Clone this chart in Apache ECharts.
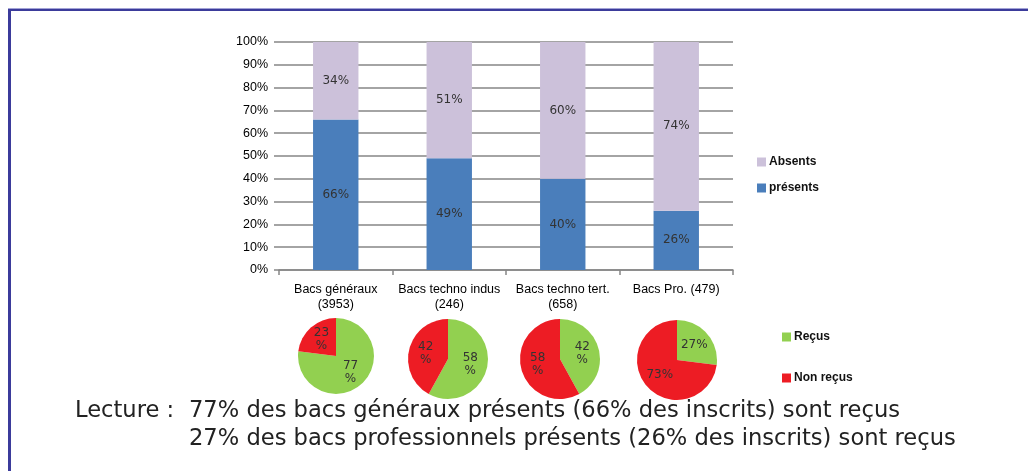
<!DOCTYPE html>
<html>
<head>
<meta charset="utf-8">
<script src="https://cdn.jsdelivr.net/npm/echarts@6/dist/echarts.min.js"></script>
<style>
  html, body { margin: 0; padding: 0; background: #fff; }
  #chart { width: 1028px; height: 471px; }
</style>
</head>
<body>
<div id="chart"></div>
<script>
// Categories of baccalauréat, with number of registered candidates
const categories = ['Bacs généraux\n(3953)', 'Bacs techno indus\n(246)', 'Bacs techno tert.\n(658)', 'Bacs Pro. (479)'];
// Share of registered candidates who sat the exam / were absent (%)
const presents = [66, 49, 40, 26];
const absents = [34, 51, 60, 74];
// Among those present: passed / failed (%)
const recus = [77, 58, 42, 27];
const nonRecus = [23, 42, 58, 73];
// Reading notes under the chart
const lectureTitle = 'Lecture :';
const lectureLines = [
  '77% des bacs généraux présents (66% des inscrits) sont reçus',
  '27% des bacs professionnels présents (26% des inscrits) sont reçus'
];

const COLOR_PRES = '#4a7ebb';
const COLOR_ABS = '#ccc1da';
const COLOR_OK = '#92d050';
const COLOR_KO = '#ed1c24';

const pieCenters = [[336, 356], [448, 359], [560, 359], [677, 360]];
const pieRadius = [38, 40, 40, 40];

const pieSeries = recus.map((r, i) => ({
  type: 'pie',
  center: pieCenters[i],
  radius: pieRadius[i],
  startAngle: 90,
  clockwise: true,
  animation: false,
  silent: true,
  label: {
    show: true,
    position: 'inner',
    color: '#333',
    fontFamily: 'DejaVu Sans',
    fontSize: 12,
    lineHeight: 13,
    formatter: i === 3 ? '{c}%' : '{c}\n%'
  },
  labelLine: { show: false },
  itemStyle: { borderWidth: 0 },
  data: [
    { name: 'Reçus', value: r, itemStyle: { color: COLOR_OK } },
    { name: 'Non reçus', value: nonRecus[i], itemStyle: { color: COLOR_KO } }
  ]
}));

const legendText = { fontFamily: 'Liberation Sans', fontSize: 12, fontWeight: 'bold', color: '#111', padding: [0, 0, 0, -2] };

const chart = echarts.init(document.getElementById('chart'), null, { renderer: 'canvas' });

chart.setOption({
  animation: false,
  backgroundColor: '#fff',
  grid: { left: 279, right: 295, top: 42, bottom: 201, containLabel: false },
  legend: [
    {
      data: ['Absents', 'présents'],
      orient: 'vertical',
      left: 757,
      top: 156,
      padding: 0,
      itemWidth: 9,
      itemHeight: 9,
      itemGap: 14,
      icon: 'rect',
      textStyle: legendText
    },
    {
      data: ['Reçus', 'Non reçus'],
      orient: 'vertical',
      left: 782,
      top: 331,
      padding: 0,
      itemWidth: 9,
      itemHeight: 9,
      itemGap: 29,
      icon: 'rect',
      textStyle: legendText
    }
  ],
  xAxis: {
    type: 'category',
    data: categories,
    axisLine: { show: true, lineStyle: { color: '#868686', width: 1.5 } },
    axisTick: { show: true, length: 5, lineStyle: { color: '#868686', width: 1.5 } },
    axisLabel: {
      interval: 0,
      margin: 12,
      color: '#000',
      fontFamily: 'Liberation Sans',
      fontSize: 12.5,
      lineHeight: 15
    }
  },
  yAxis: {
    type: 'value',
    min: 0,
    max: 100,
    interval: 10,
    axisLine: { show: false },
    axisTick: { show: true, length: 5, lineStyle: { color: '#868686', width: 1.5 } },
    splitLine: { show: true, lineStyle: { color: '#868686', width: 1.5 } },
    axisLabel: {
      formatter: '{value}%',
      margin: 11,
      color: '#000',
      fontFamily: 'Liberation Sans',
      fontSize: 12.5
    }
  },
  series: [
    {
      name: 'présents',
      type: 'bar',
      stack: 'total',
      barWidth: '40%',
      data: presents,
      itemStyle: { color: COLOR_PRES },
      label: {
        show: true, position: 'inside', formatter: '{c}%',
        color: '#333', fontFamily: 'DejaVu Sans', fontSize: 12
      }
    },
    {
      name: 'Absents',
      type: 'bar',
      stack: 'total',
      barWidth: '40%',
      data: absents,
      itemStyle: { color: COLOR_ABS },
      label: {
        show: true, position: 'inside', formatter: '{c}%',
        color: '#333', fontFamily: 'DejaVu Sans', fontSize: 12
      }
    },
    ...pieSeries
  ],
  graphic: [
    // frame: top and left border
    { type: 'rect', shape: { x: 8, y: 8, width: 1020, height: 1 }, style: { fill: '#a3a3d6' }, silent: true },
    { type: 'rect', shape: { x: 8, y: 9, width: 1020, height: 2 }, style: { fill: '#3b3b9b' }, silent: true },
    { type: 'rect', shape: { x: 8, y: 9, width: 3, height: 462 }, style: { fill: '#3b3b9b' }, silent: true },
    {
      type: 'text', left: 75, top: 400, silent: true,
      style: { text: lectureTitle, font: '22.6px "DejaVu Sans"', fill: '#222' }
    },
    {
      type: 'text', left: 189, top: 400, silent: true,
      style: { text: lectureLines[0], font: '22.6px "DejaVu Sans"', fill: '#222' }
    },
    {
      type: 'text', left: 189, top: 428, silent: true,
      style: { text: lectureLines[1], font: '22.6px "DejaVu Sans"', fill: '#222' }
    }
  ]
});
</script>
</body>
</html>
